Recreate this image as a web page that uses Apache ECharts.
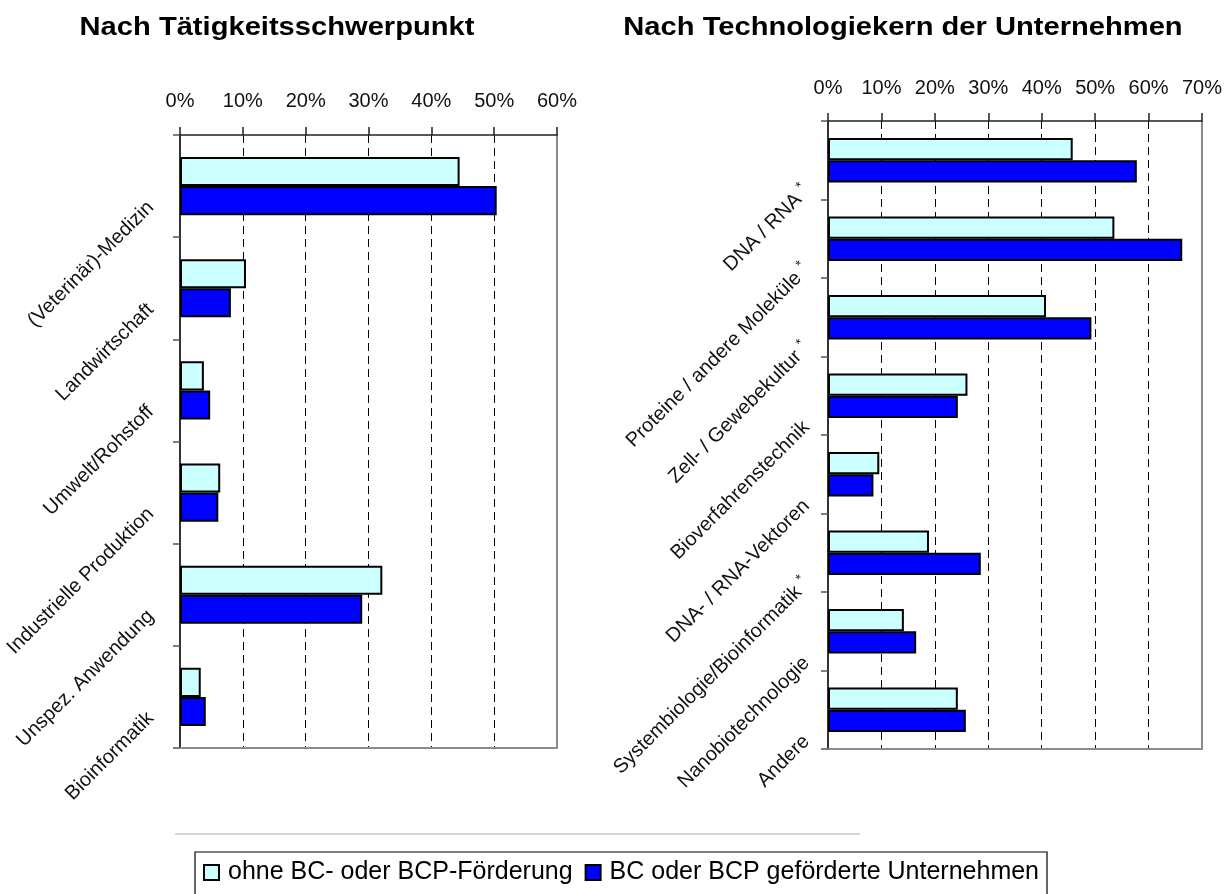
<!DOCTYPE html>
<html>
<head>
<meta charset="utf-8">
<script src="https://cdn.jsdelivr.net/npm/echarts@6/dist/echarts.min.js"></script>
<style>
html,body{margin:0;padding:0;background:#fff;}
#chart{width:1231px;height:894px;}
</style>
</head>
<body>
<div id="chart"></div>
<script>
// ---- data ----
const titleLeft = 'Nach Tätigkeitsschwerpunkt';
const titleRight = 'Nach Technologiekern der Unternehmen';
const seriesNames = ['ohne BC- oder BCP-Förderung', 'BC oder BCP geförderte Unternehmen'];

const catsLeft = ['(Veterinär)-Medizin', 'Landwirtschaft', 'Umwelt/Rohstoff', 'Industrielle Produktion', 'Unspez. Anwendung', 'Bioinformatik'];
const ohneLeft = [44.5, 10.5, 3.8, 6.4, 32.2, 3.3];
const bcLeft   = [50.4, 8.1, 4.8, 6.1, 29.0, 4.1];

const catsRight = ['DNA / RNA *', 'Proteine / andere Moleküle *', 'Zell- / Gewebekultur *', 'Bioverfahrenstechnik', 'DNA- / RNA-Vektoren', 'Systembiologie/Bioinformatik *', 'Nanobiotechnologie', 'Andere'];
const ohneRight = [45.8, 53.6, 40.8, 26.1, 9.6, 18.9, 14.2, 24.3];
const bcRight   = [57.8, 66.3, 49.3, 24.3, 8.5, 28.6, 16.5, 25.8];

const maxLeft = 60, maxRight = 70, tickStep = 10;

// ---- styles ----
const FONT = '"Liberation Sans", Arial, sans-serif';
const colLight = '#CCFFFF', colDark = '#0000FF';

const chart = echarts.init(document.getElementById('chart'), null, {renderer: 'canvas'});

function valueAxis(gridIndex, max, margin) {
  return {
    type: 'value', gridIndex, position: 'top', min: 0, max, interval: tickStep,
    axisLine: {show: true, lineStyle: {color: '#222', width: 1.5}},
    axisTick: {show: true, length: 8, inside: false, lineStyle: {color: '#222', width: 1.5}},
    axisLabel: {formatter: '{value}%', fontFamily: FONT, fontSize: 20, color: '#111', margin},
    splitLine: {show: true, lineStyle: {color: '#000', type: [8, 5], width: 1}}
  };
}
function borderXAxis(gridIndex, max) {
  return {
    type: 'value', gridIndex, position: 'bottom', min: 0, max, interval: tickStep,
    axisLine: {show: true, onZero: false, lineStyle: {color: '#8c8c8c', width: 2}},
    axisTick: {show: false}, axisLabel: {show: false}, splitLine: {show: false}
  };
}
function catAxis(gridIndex, cats, rich, margin, pad) {
  return {
    type: 'category', gridIndex, data: cats, inverse: true, position: 'left',
    axisLine: {show: true, onZero: false, lineStyle: {color: '#333', width: 2}},
    axisTick: {show: true, length: 7, lineStyle: {color: '#555', width: 1.5}},
    axisLabel: {
      interval: 0, rotate: 45, margin, fontFamily: FONT, fontSize: 20, color: '#111',
      align: 'right', verticalAlign: 'middle', padding: pad, hideOverlap: false,
      formatter: function (v) {
        if (rich && v.endsWith(' *')) return '{a|' + v.slice(0, -2) + ' }{s|*}';
        return rich ? '{a|' + v + '}' : v;
      },
      rich: rich ? {
        a: {fontFamily: FONT, fontSize: 20, color: '#111'},
        s: {fontFamily: FONT, fontSize: 14, color: '#111', padding: [0, 0, 12, 0]}
      } : undefined
    },
    splitLine: {show: false}
  };
}
function borderYAxis(gridIndex, cats) {
  return {
    type: 'category', gridIndex, data: cats, inverse: true, position: 'right',
    axisLine: {show: true, onZero: false, lineStyle: {color: '#8c8c8c', width: 2}},
    axisTick: {show: false}, axisLabel: {show: false}, splitLine: {show: false}
  };
}
function barSeries(name, data, color, xi, yi) {
  return {
    type: 'bar', name, data, xAxisIndex: xi, yAxisIndex: yi,
    barCategoryGap: '43%', barGap: '0%',
    itemStyle: {color, borderColor: '#000', borderWidth: 2},
    emphasis: {disabled: true}, animation: false
  };
}
function titleText(text, cx) {
  return {
    type: 'text', x: cx, y: 28, scaleX: 1.12, silent: true,
    style: {text, x: 0, y: 0, font: 'bold 26px "Liberation Sans", Arial, sans-serif',
            fill: '#000', align: 'center', verticalAlign: 'middle'}
  };
}

const option = {
  backgroundColor: '#fff',
  animation: false,
  grid: [
    {left: 180, right: 674, top: 135, bottom: 146, containLabel: false, outerBoundsMode: 'none'},
    {left: 828, right: 29, top: 121, bottom: 145, containLabel: false, outerBoundsMode: 'none'}
  ],
  xAxis: [
    valueAxis(0, maxLeft, 24),
    valueAxis(1, maxRight, 23),
    borderXAxis(0, maxLeft),
    borderXAxis(1, maxRight)
  ],
  yAxis: [
    catAxis(0, catsLeft, false, 11, [54, 26, 0, 0]),
    catAxis(1, catsRight, true, 22, [41, 20, 0, 0]),
    borderYAxis(0, catsLeft),
    borderYAxis(1, catsRight)
  ],
  legend: {
    left: 195, top: 852, orient: 'horizontal',
    data: seriesNames,
    icon: 'rect', itemWidth: 15, itemHeight: 15, itemGap: 12,
    borderColor: '#000', borderWidth: 1.2, padding: [8, 8, 12, 8],
    textStyle: {fontFamily: FONT, fontSize: 25, color: '#000', padding: [0, 0, 0, 4]},
    selectedMode: false
  },
  graphic: [
    titleText(titleLeft, 277),
    titleText(titleRight, 903),
    {type: 'line', shape: {x1: 175, y1: 834, x2: 860, y2: 834}, style: {stroke: '#c8c8c8', lineWidth: 1.5}, silent: true}
  ],
  series: [
    barSeries(seriesNames[0], ohneLeft, colLight, 0, 0),
    barSeries(seriesNames[1], bcLeft, colDark, 0, 0),
    barSeries(seriesNames[0], ohneRight, colLight, 1, 1),
    barSeries(seriesNames[1], bcRight, colDark, 1, 1)
  ]
};
chart.setOption(option);
</script>
</body>
</html>
